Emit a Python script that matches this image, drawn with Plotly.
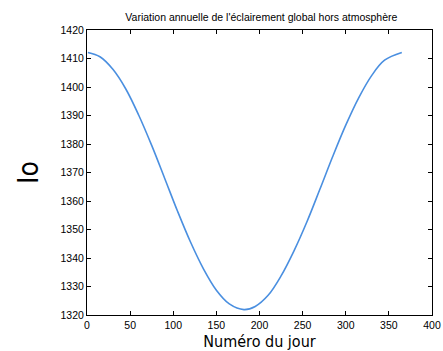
import plotly.graph_objects as go

# Day of the year and extraterrestrial irradiance I0 (W/m²)
jours = [1, 15, 30, 45, 60, 75, 90, 105, 120, 135, 150, 165, 182,
         195, 210, 225, 240, 255, 270, 285, 300, 315, 330, 345, 365]
io = [1412.1, 1410.6, 1406.2, 1399.3, 1390.1, 1379.5, 1368.0, 1356.4,
      1345.6, 1336.2, 1328.7, 1323.9, 1321.9, 1323.0, 1326.9, 1333.7,
      1342.5, 1352.7, 1364.1, 1375.7, 1386.6, 1396.2, 1404.0, 1409.4, 1412.1]

x_ticks = [0, 50, 100, 150, 200, 250, 300, 350, 400]
y_ticks = [1320, 1330, 1340, 1350, 1360, 1370, 1380, 1390, 1400, 1410, 1420]

narrow = "DejaVu Sans Condensed, Liberation Sans Narrow, Arial Narrow, sans-serif"

fig = go.Figure()
fig.add_trace(go.Scatter(
    x=jours, y=io, mode="lines",
    line=dict(color="#4a8fe0", width=1.6, shape="spline", smoothing=1.0),
    showlegend=False,
))

axis_common = dict(
    showgrid=False, zeroline=False, automargin=False,
    showline=True, linecolor="black", linewidth=1, mirror="ticks",
    ticks="inside", ticklen=4, tickcolor="black", tickwidth=1,
    tickfont=dict(family="Liberation Sans, Arial", size=10.5, color="#000"),
)

fig.update_layout(
    width=443, height=351,
    margin=dict(l=87, r=11, t=30, b=36),
    paper_bgcolor="white", plot_bgcolor="white",
    title=dict(
        text="Variation annuelle de l'éclairement global hors atmosphère",
        font=dict(family="Liberation Sans, Arial", size=10.5, color="#000"),
        x=0.59, xanchor="center", y=0.952, yanchor="middle",
    ),
    xaxis=dict(
        range=[0, 400], tickvals=x_ticks, **axis_common,
        title=dict(text="Numéro du jour", standoff=7,
                   font=dict(family=narrow, size=16, color="#000")),
    ),
    yaxis=dict(
        range=[1320, 1420], tickvals=y_ticks, **axis_common,
        title=dict(text="Io", standoff=13,
                   font=dict(family=narrow, size=28, color="#000")),
    ),
)

fig.write_html("out.html")
